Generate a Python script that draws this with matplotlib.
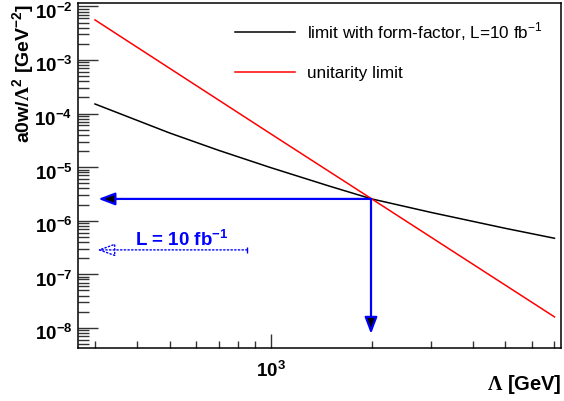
import numpy as np
import matplotlib
matplotlib.use("Agg")
import matplotlib.pyplot as plt
from matplotlib.ticker import LogLocator, FuncFormatter, NullFormatter
from matplotlib.transforms import ScaledTranslation

plt.rcParams['font.family'] = ['Liberation Sans', 'DejaVu Sans']
plt.rcParams['font.weight'] = 'bold'
plt.rcParams['mathtext.fontset'] = 'custom'
plt.rcParams['mathtext.sf'] = 'Liberation Serif'
plt.rcParams['mathtext.rm'] = 'Liberation Sans:bold'

# curves
lam_ff = [300, 500, 700, 1000, 1500, 2000, 3000, 5000, 7000]
lim_ff = [1.51e-4, 4.35e-5, 2.06e-5, 9.8e-6, 4.4e-6, 2.55e-6, 1.43e-6, 7.2e-7, 4.7e-7]
lam_unit = [300, 1000, 2000, 7000]
lim_unit = [5.6e-3, 4.2e-5, 2.55e-6, 1.6e-8]

# arrows / annotation
cross_lam = 1990
cross_lim = 2.55e-6
harrow_end = 307
varrow_end = 7.7e-9
lumi_arrow_x = [851, 305]
lumi_arrow_y = 2.85e-7
lumi_text = (542, 3.4e-7)

xlim = (267, 7320)
ylim = (4.2e-9, 1.16e-2)

fig = plt.figure(figsize=(5.64, 4.01), dpi=100)
ax = fig.add_axes([78/564, 1-348/401, 483/564, 345/401])

ax.plot(lam_ff, lim_ff, color='black', lw=1.1, label=r'limit with form-factor, L=10 fb$^{\mathdefault{-1}}$')
ax.plot(lam_unit, lim_unit, color='red', lw=1.1, label='unitarity limit')

ax.set_xscale('log')
ax.set_yscale('log')
ax.set_xlim(*xlim)
ax.set_ylim(*ylim)

# blue arrows from crossing point
arr = dict(arrowstyle='-|>,head_length=1.0,head_width=0.38', ec='blue', fc='black',
           lw=1.6, shrinkA=0, shrinkB=0, mutation_scale=10)
ax.annotate('', xy=(harrow_end, cross_lim), xytext=(cross_lam, cross_lim), arrowprops=arr)
ax.annotate('', xy=(cross_lam, varrow_end), xytext=(cross_lam, cross_lim), arrowprops=arr)

# dotted luminosity arrow
ax.annotate('', xy=(lumi_arrow_x[1], lumi_arrow_y), xytext=(lumi_arrow_x[0], lumi_arrow_y),
            arrowprops=dict(arrowstyle='-|>,head_length=1.1,head_width=0.4', ec='blue', fc='none',
                            lw=1, ls=':', shrinkA=0, shrinkB=0, mutation_scale=10))
ax.plot([lumi_arrow_x[0]], [lumi_arrow_y], marker='|', ms=5, mew=1, color='blue', ls=':')
ax.text(lumi_text[0], lumi_text[1], r'L = 10 fb$^{\mathdefault{-1}}$', color='blue',
        fontsize=13.5, fontweight='bold', ha='center', va='baseline')

fmt = FuncFormatter(lambda v, p: r'10$^{\mathdefault{%d}}$' % int(round(np.log10(v))))
for axis in (ax.xaxis, ax.yaxis):
    axis.set_major_locator(LogLocator(base=10))
    axis.set_minor_locator(LogLocator(base=10, subs=np.arange(2, 10)))
    axis.set_major_formatter(fmt)
    axis.set_minor_formatter(NullFormatter())

ax.tick_params(axis='both', which='both', direction='in', top=False, right=False,
               labelsize=13.5, width=1, color='#333333')
ax.tick_params(axis='y', which='major', length=14.5, pad=4)
ax.tick_params(axis='y', which='minor', length=8)
ax.tick_params(axis='x', which='major', length=10, pad=9)
ax.tick_params(axis='x', which='minor', length=5)
for s in ax.spines.values():
    s.set_linewidth(1.1)

# ROOT puts the y labels a bit below the tick
shift = ScaledTranslation(0, -4/100, fig.dpi_scale_trans)
for t in ax.yaxis.get_major_ticks():
    t.label1.set_transform(t.label1.get_transform() + shift)

leg = ax.legend(loc='upper left', bbox_to_anchor=((235-78)/483, 1-(20-3)/345), frameon=False,
                handlelength=3.5, handletextpad=0.7, labelspacing=1.35, borderpad=0, borderaxespad=0,
                prop={'size': 12.3, 'weight': 'normal'})

fig.text(24/564, 1-4/401, r'a0w/$\mathsf{\Lambda}^{\mathdefault{2}}$ [GeV$^{\mathdefault{-2}}$]',
         rotation=90, ha='center', va='top', fontsize=14, fontweight='bold')
fig.text(562/564, 1-385/401, r'$\mathsf{\Lambda}$ [GeV]', ha='right', va='center',
         fontsize=14.5, fontweight='bold')

fig.savefig('out.png', dpi=100)
